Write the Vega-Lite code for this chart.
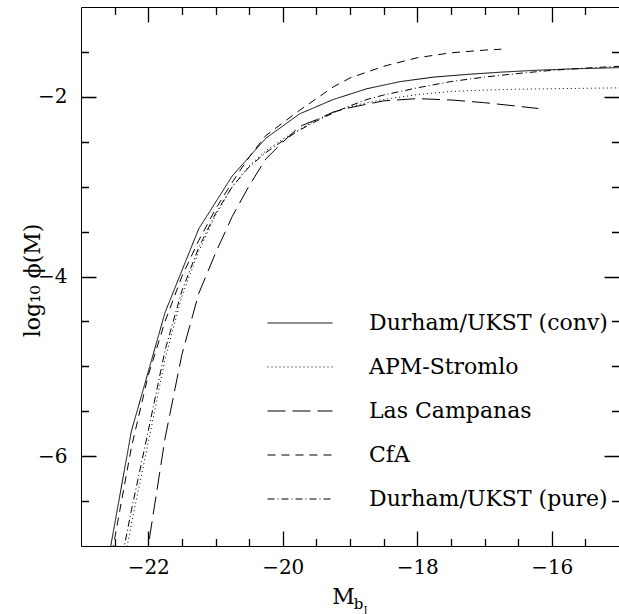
{
  "$schema": "https://vega.github.io/schema/vega-lite/v6.json",
  "width": 538,
  "height": 539,
  "autosize": {"type": "none"},
  "padding": {"left": 81, "top": 7, "right": 0, "bottom": 68},
  "background": "white",
  "config": {
    "view": {"stroke": "black", "strokeWidth": 1},
    "axis": {"domain": false, "labelFont": "DejaVu Serif", "titleFont": "DejaVu Serif", "labelColor": "black", "titleColor": "black", "titleFontWeight": "normal"}
  },
  "datasets": {
    "lf": [
      {"survey": "Durham/UKST (conv)", "M": -22.75, "logphi": -7.8},
      {"survey": "Durham/UKST (conv)", "M": -22.25, "logphi": -5.72},
      {"survey": "Durham/UKST (conv)", "M": -21.75, "logphi": -4.40},
      {"survey": "Durham/UKST (conv)", "M": -21.25, "logphi": -3.47},
      {"survey": "Durham/UKST (conv)", "M": -20.75, "logphi": -2.88},
      {"survey": "Durham/UKST (conv)", "M": -20.25, "logphi": -2.46},
      {"survey": "Durham/UKST (conv)", "M": -19.75, "logphi": -2.19},
      {"survey": "Durham/UKST (conv)", "M": -19.25, "logphi": -2.03},
      {"survey": "Durham/UKST (conv)", "M": -18.75, "logphi": -1.91},
      {"survey": "Durham/UKST (conv)", "M": -18.25, "logphi": -1.83},
      {"survey": "Durham/UKST (conv)", "M": -17.75, "logphi": -1.78},
      {"survey": "Durham/UKST (conv)", "M": -17.25, "logphi": -1.75},
      {"survey": "Durham/UKST (conv)", "M": -16.75, "logphi": -1.725},
      {"survey": "Durham/UKST (conv)", "M": -16.25, "logphi": -1.705},
      {"survey": "Durham/UKST (conv)", "M": -15.75, "logphi": -1.69},
      {"survey": "Durham/UKST (conv)", "M": -15.25, "logphi": -1.68},
      {"survey": "Durham/UKST (conv)", "M": -14.75, "logphi": -1.67},
      {"survey": "APM-Stromlo", "M": -22.5, "logphi": -7.75},
      {"survey": "APM-Stromlo", "M": -22.25, "logphi": -6.75},
      {"survey": "APM-Stromlo", "M": -22.0, "logphi": -5.85},
      {"survey": "APM-Stromlo", "M": -21.75, "logphi": -4.92},
      {"survey": "APM-Stromlo", "M": -21.5, "logphi": -4.22},
      {"survey": "APM-Stromlo", "M": -21.25, "logphi": -3.72},
      {"survey": "APM-Stromlo", "M": -21.0, "logphi": -3.32},
      {"survey": "APM-Stromlo", "M": -20.75, "logphi": -3.0},
      {"survey": "APM-Stromlo", "M": -20.5, "logphi": -2.77},
      {"survey": "APM-Stromlo", "M": -20.25, "logphi": -2.60},
      {"survey": "APM-Stromlo", "M": -20.0, "logphi": -2.47},
      {"survey": "APM-Stromlo", "M": -19.75, "logphi": -2.36},
      {"survey": "APM-Stromlo", "M": -19.5, "logphi": -2.26},
      {"survey": "APM-Stromlo", "M": -19.25, "logphi": -2.17},
      {"survey": "APM-Stromlo", "M": -19.0, "logphi": -2.11},
      {"survey": "APM-Stromlo", "M": -18.75, "logphi": -2.065},
      {"survey": "APM-Stromlo", "M": -18.5, "logphi": -2.03},
      {"survey": "APM-Stromlo", "M": -18.0, "logphi": -1.975},
      {"survey": "APM-Stromlo", "M": -17.5, "logphi": -1.94},
      {"survey": "APM-Stromlo", "M": -17.0, "logphi": -1.925},
      {"survey": "APM-Stromlo", "M": -16.5, "logphi": -1.915},
      {"survey": "APM-Stromlo", "M": -16.0, "logphi": -1.91},
      {"survey": "APM-Stromlo", "M": -15.0, "logphi": -1.90},
      {"survey": "Las Campanas", "M": -22.25, "logphi": -8.3},
      {"survey": "Las Campanas", "M": -22.0, "logphi": -7.0},
      {"survey": "Las Campanas", "M": -21.75, "logphi": -5.8},
      {"survey": "Las Campanas", "M": -21.5, "logphi": -4.87},
      {"survey": "Las Campanas", "M": -21.25, "logphi": -4.19},
      {"survey": "Las Campanas", "M": -21.0, "logphi": -3.74},
      {"survey": "Las Campanas", "M": -20.75, "logphi": -3.33},
      {"survey": "Las Campanas", "M": -20.5, "logphi": -2.99},
      {"survey": "Las Campanas", "M": -20.25, "logphi": -2.69},
      {"survey": "Las Campanas", "M": -20.0, "logphi": -2.505},
      {"survey": "Las Campanas", "M": -19.75, "logphi": -2.33},
      {"survey": "Las Campanas", "M": -19.5, "logphi": -2.255},
      {"survey": "Las Campanas", "M": -19.25, "logphi": -2.17},
      {"survey": "Las Campanas", "M": -19.0, "logphi": -2.12},
      {"survey": "Las Campanas", "M": -18.5, "logphi": -2.045},
      {"survey": "Las Campanas", "M": -18.0, "logphi": -2.02},
      {"survey": "Las Campanas", "M": -17.5, "logphi": -2.035},
      {"survey": "Las Campanas", "M": -17.0, "logphi": -2.065},
      {"survey": "Las Campanas", "M": -16.5, "logphi": -2.105},
      {"survey": "Las Campanas", "M": -16.2, "logphi": -2.13},
      {"survey": "CfA", "M": -22.75, "logphi": -8.0},
      {"survey": "CfA", "M": -22.5, "logphi": -6.92},
      {"survey": "CfA", "M": -22.25, "logphi": -5.9},
      {"survey": "CfA", "M": -22.0, "logphi": -5.1},
      {"survey": "CfA", "M": -21.75, "logphi": -4.5},
      {"survey": "CfA", "M": -21.5, "logphi": -4.0},
      {"survey": "CfA", "M": -21.25, "logphi": -3.6},
      {"survey": "CfA", "M": -21.0, "logphi": -3.25},
      {"survey": "CfA", "M": -20.75, "logphi": -2.95},
      {"survey": "CfA", "M": -20.5, "logphi": -2.67},
      {"survey": "CfA", "M": -20.25, "logphi": -2.43},
      {"survey": "CfA", "M": -20.0, "logphi": -2.29},
      {"survey": "CfA", "M": -19.75, "logphi": -2.15},
      {"survey": "CfA", "M": -19.5, "logphi": -2.02},
      {"survey": "CfA", "M": -19.25, "logphi": -1.89},
      {"survey": "CfA", "M": -19.0, "logphi": -1.79},
      {"survey": "CfA", "M": -18.5, "logphi": -1.66},
      {"survey": "CfA", "M": -18.0, "logphi": -1.565},
      {"survey": "CfA", "M": -17.5, "logphi": -1.51},
      {"survey": "CfA", "M": -17.0, "logphi": -1.48},
      {"survey": "CfA", "M": -16.75, "logphi": -1.47},
      {"survey": "Durham/UKST (pure)", "M": -22.5, "logphi": -7.55},
      {"survey": "Durham/UKST (pure)", "M": -22.25, "logphi": -6.6},
      {"survey": "Durham/UKST (pure)", "M": -22.0, "logphi": -5.72},
      {"survey": "Durham/UKST (pure)", "M": -21.75, "logphi": -4.82},
      {"survey": "Durham/UKST (pure)", "M": -21.5, "logphi": -4.16},
      {"survey": "Durham/UKST (pure)", "M": -21.25, "logphi": -3.68},
      {"survey": "Durham/UKST (pure)", "M": -21.0, "logphi": -3.30},
      {"survey": "Durham/UKST (pure)", "M": -20.75, "logphi": -3.0},
      {"survey": "Durham/UKST (pure)", "M": -20.5, "logphi": -2.78},
      {"survey": "Durham/UKST (pure)", "M": -20.25, "logphi": -2.62},
      {"survey": "Durham/UKST (pure)", "M": -20.0, "logphi": -2.49},
      {"survey": "Durham/UKST (pure)", "M": -19.75, "logphi": -2.37},
      {"survey": "Durham/UKST (pure)", "M": -19.5, "logphi": -2.27},
      {"survey": "Durham/UKST (pure)", "M": -19.25, "logphi": -2.18},
      {"survey": "Durham/UKST (pure)", "M": -19.0, "logphi": -2.10},
      {"survey": "Durham/UKST (pure)", "M": -18.75, "logphi": -2.03},
      {"survey": "Durham/UKST (pure)", "M": -18.5, "logphi": -1.98},
      {"survey": "Durham/UKST (pure)", "M": -18.0, "logphi": -1.90},
      {"survey": "Durham/UKST (pure)", "M": -17.5, "logphi": -1.83},
      {"survey": "Durham/UKST (pure)", "M": -17.0, "logphi": -1.78},
      {"survey": "Durham/UKST (pure)", "M": -16.5, "logphi": -1.74},
      {"survey": "Durham/UKST (pure)", "M": -16.0, "logphi": -1.705},
      {"survey": "Durham/UKST (pure)", "M": -15.5, "logphi": -1.68},
      {"survey": "Durham/UKST (pure)", "M": -15.0, "logphi": -1.66}
    ]
  },
  "data": {"name": "lf"},
  "layer": [
    {
      "mark": {"type": "line", "clip": true, "color": "black", "strokeWidth": 1},
      "encoding": {
        "x": {"field": "M", "type": "quantitative", "scale": {"domain": [-23, -15], "nice": false, "zero": false},
          "axis": {"orient": "bottom", "values": [-22, -20, -18, -16], "ticks": false, "grid": true, "gridColor": "black", "gridOpacity": 1, "gridWidth": 1.3, "gridDash": [15, 509, 15], "zindex": 1, "labelPadding": 11, "labelFontSize": 20, "title": "M", "titleFontSize": 22, "titleX": 262, "titleY": 57, "titleBaseline": "alphabetic", "titleAlign": "center"}},
        "y": {"field": "logphi", "type": "quantitative", "scale": {"domain": [-7, -1], "nice": false, "zero": false},
          "axis": {"orient": "left", "values": [-6, -4, -2], "ticks": false, "grid": true, "gridColor": "black", "gridOpacity": 1, "gridWidth": 1.3, "gridDash": [15, 508, 15], "zindex": 1, "labelPadding": 14, "labelFontSize": 20, "title": "log₁₀ ϕ(M)", "titleFontSize": 22, "titleX": -42, "titleY": 273, "titleBaseline": "alphabetic", "titleAngle": -90, "titleAlign": "center"}},
        "strokeDash": {"field": "survey", "type": "nominal",
          "scale": {"domain": ["Durham/UKST (conv)", "APM-Stromlo", "Las Campanas", "CfA", "Durham/UKST (pure)"], "range": [[1, 0], [1, 3], [18, 7], [8, 6], [7, 3, 1, 3]]},
          "legend": {"orient": "none", "legendX": 186, "legendY": 283, "title": null, "symbolType": "stroke", "symbolSize": 4225, "symbolStrokeWidth": 1, "symbolStrokeColor": "black", "labelFont": "DejaVu Serif", "labelFontSize": 22, "labelColor": "black", "labelOffset": 36, "labelLimit": 400, "rowPadding": -21}}
      }
    },
    {
      "mark": {"type": "point", "opacity": 0},
      "encoding": {
        "x": {"field": "M", "type": "quantitative", "axis": {"orient": "bottom", "values": [-22.5, -21.5, -21, -20.5, -19.5, -19, -18.5, -17.5, -17, -16.5, -15.5], "ticks": false, "grid": true, "gridColor": "black", "gridOpacity": 1, "gridWidth": 1.3, "gridDash": [7.5, 524, 7.5], "zindex": 1, "labels": false, "title": "b", "titleFontSize": 15, "titleX": 277, "titleY": 62, "titleBaseline": "alphabetic", "titleAlign": "center"}},
        "y": {"field": "logphi", "type": "quantitative", "axis": {"orient": "left", "values": [-6.5, -5.5, -5, -4.5, -3.5, -3, -2.5, -1.5], "ticks": false, "grid": true, "gridColor": "black", "gridOpacity": 1, "gridWidth": 1.3, "gridDash": [7.5, 523, 7.5], "zindex": 1, "labels": false, "title": "J", "titleFontSize": 10, "titleAngle": 0, "titleX": 284, "titleY": 605, "titleBaseline": "alphabetic", "titleAlign": "center"}}
      }
    }
  ],
  "resolve": {"axis": {"x": "independent", "y": "independent"}}
}
